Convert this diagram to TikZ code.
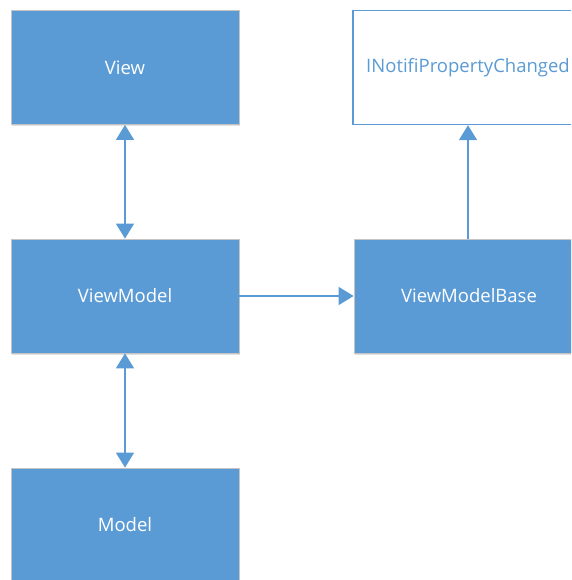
\documentclass[tikz,border=0pt]{standalone}
\usepackage{fontspec}
\setmainfont{Open Sans}
\usetikzlibrary{arrows.meta,shadows}
\definecolor{boxblue}{HTML}{5B9BD5}
\definecolor{boxedge}{HTML}{C4C4C4}
\tikzset{
  x=1pt, y=-1pt,
  classbox/.style={rectangle, minimum width=228pt, minimum height=114pt, inner sep=0pt,
    font=\fontsize{18.5}{20}\selectfont},
  filledbox/.style={classbox, fill=boxblue, draw=boxedge, line width=0.8pt, text=white,
    drop shadow={shadow xshift=1pt, shadow yshift=-2pt, opacity=0.12, fill=black}},
  openbox/.style={classbox, fill=white, draw=boxblue, line width=1.4pt, text=boxblue},
  link/.style={draw=boxblue, line width=1.5pt,
    -{Triangle[length=15pt,width=18pt]}},
  twoway/.style={link, {Triangle[length=15pt,width=18pt]}-{Triangle[length=15pt,width=18pt]}}
}
\begin{document}
\begin{tikzpicture}
  \useasboundingbox (0,0) rectangle (571,580);
  \begin{scope}
    \clip (0,0) rectangle (571,580);
    \node[filledbox] (view) at (125,67.5) {View};
    \node[filledbox] (vm) at (125,296) {ViewModel};
    \node[filledbox] (model) at (125,525) {Model};
    \node[filledbox, minimum width=230pt] (vmb) at (469,296) {ViewModelBase};
    \node[openbox, minimum width=230pt] (inpc) at (468,67.5) {INotifiPropertyChanged};
  \end{scope}
  \draw[twoway] (view.south) -- (vm.north);
  \draw[twoway] (vm.south) -- (model.north);
  \draw[link] (vm.east) -- (vmb.west);
  \draw[link] (vmb.north -| inpc.south) -- (inpc.south);
\end{tikzpicture}
\end{document}
